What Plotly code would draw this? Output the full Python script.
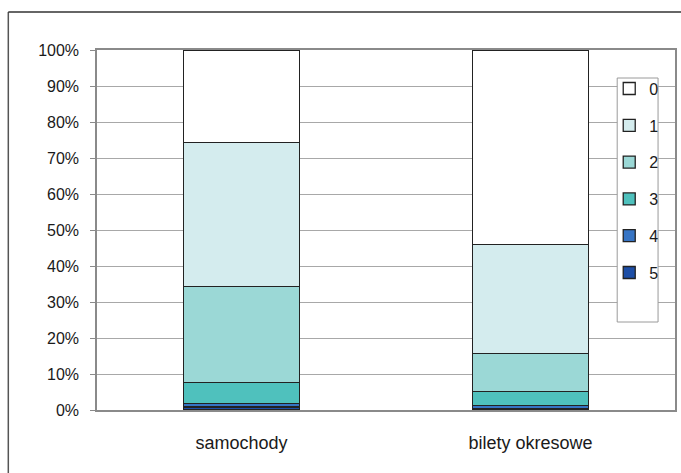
import plotly.graph_objects as go

# Categories and share of each answer level (percent of respondents)
categories = ["samochody", "bilety okresowe"]
levels = ["5", "4", "3", "2", "1", "0"]          # stacked bottom -> top
share_5 = [0.8, 0.3]
share_4 = [1.0, 0.9]
share_3 = [5.8, 4.0]
share_2 = [26.8, 10.5]
share_1 = [39.9, 30.2]
share_0 = [25.7, 54.1]
y_ticks = [0, 10, 20, 30, 40, 50, 60, 70, 80, 90, 100]
y_tick_labels = ["0%", "10%", "20%", "30%", "40%", "50%",
                 "60%", "70%", "80%", "90%", "100%"]

series = [share_5, share_4, share_3, share_2, share_1, share_0]
colors = ["#1d4ea6", "#3674c4", "#4fc1bd", "#9bd8d6", "#d4ecee", "#ffffff"]

FONT = "Liberation Sans, Arial, sans-serif"

# plot-area pixel geometry used to place the frame and legend box
PL, PW, PB, PH = 97, 580, 410, 360


def px_x(x):
    return (x - PL) / PW


def px_y(y):
    return (PB - y) / PH


fig = go.Figure()
for name, vals, col in zip(levels, series, colors):
    fig.add_trace(go.Bar(
        x=categories, y=vals, name=name, legendgroup=name,
        legendrank=int(name),          # "0" listed first, "5" last
        marker=dict(color=col, line=dict(color="#222222", width=1.3)),
        hoverinfo="name+y",
    ))

fig.update_layout(
    width=681, height=473,
    barmode="stack", bargap=0.597,
    paper_bgcolor="white", plot_bgcolor="white",
    margin=dict(l=97, r=4, t=50, b=63),
    font=dict(family=FONT, size=16, color="#1a1a1a"),
    showlegend=True,
    legend=dict(
        x=px_x(611), y=0.94, xanchor="left", yanchor="top",
        traceorder="grouped", tracegroupgap=13,
        bgcolor="rgba(0,0,0,0)", borderwidth=0,
        font=dict(family=FONT, size=16, color="#1a1a1a"),
        itemwidth=30,
    ),
    xaxis=dict(
        showline=True, linecolor="#8a8a8a", linewidth=1.5, mirror=True,
        ticks="", ticklabelstandoff=16,
        tickfont=dict(family=FONT, size=18, color="#1a1a1a"),
    ),
    yaxis=dict(
        range=[0, 100], tickmode="array",
        tickvals=y_ticks, ticktext=y_tick_labels,
        showgrid=True, gridcolor="#a8a8a8", gridwidth=1,
        showline=True, linecolor="#8a8a8a", linewidth=1.5, mirror=True,
        ticks="outside", ticklen=5, tickcolor="#8a8a8a",
        ticklabelstandoff=8,
        tickfont=dict(family=FONT, size=16, color="#1a1a1a"),
        zeroline=False,
    ),
    shapes=[
        # outer frame (left and top edges)
        dict(type="line", xref="paper", yref="paper",
             x0=px_x(8), x1=px_x(8), y0=px_y(12), y1=px_y(480),
             line=dict(color="#555555", width=1.5)),
        dict(type="line", xref="paper", yref="paper",
             x0=px_x(8), x1=px_x(690), y0=px_y(12), y1=px_y(12),
             line=dict(color="#333333", width=1.5)),
        # legend box
        dict(type="rect", xref="paper", yref="paper", layer="above",
             x0=px_x(619), x1=px_x(660), y0=px_y(78), y1=px_y(322),
             fillcolor="white", line=dict(color="#9a9a9a", width=1)),
    ],
)

fig.write_html("out.html")
